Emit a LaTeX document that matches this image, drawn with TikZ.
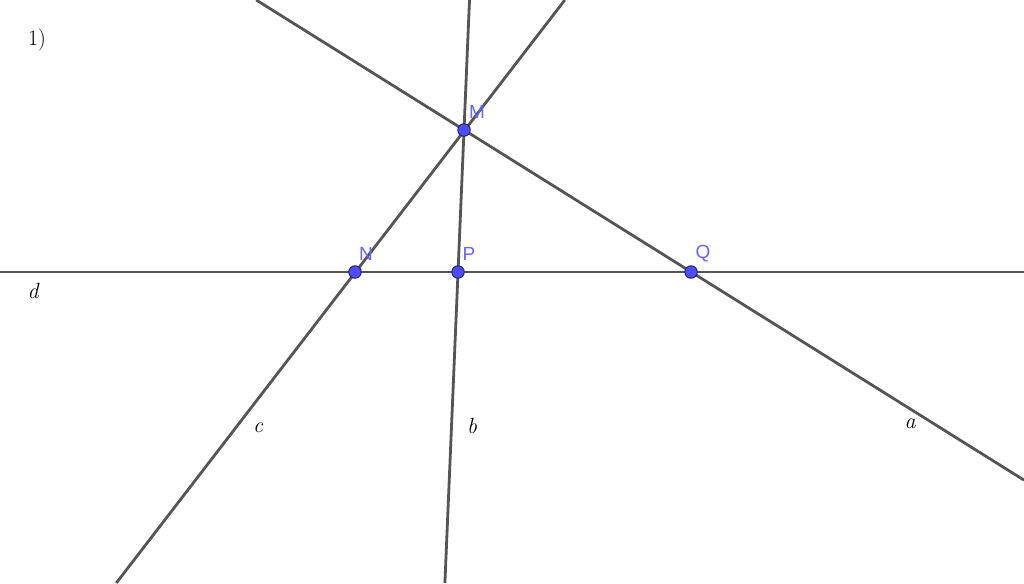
\documentclass[tikz,border=0pt]{standalone}
\usepackage{fontspec}
\newfontfamily\geosans{Liberation Sans}
\definecolor{linegray}{RGB}{85,85,85}
\definecolor{ptblue}{RGB}{77,77,255}
\definecolor{ptedge}{RGB}{30,30,90}
\definecolor{lblblue}{RGB}{102,102,255}
\tikzset{
  geoline/.style={draw=linegray,line width=2.8pt},
  geopt/.style={circle,fill=ptblue,draw=ptedge,line width=0.9pt,inner sep=0pt,minimum size=12.5pt},
  ptlabel/.style={text=lblblue,font=\geosans\fontsize{19}{22}\selectfont,inner sep=0pt},
  linelabel/.style={font=\fontsize{22}{26}\selectfont\itshape,inner sep=0pt}
}
\begin{document}
\begin{tikzpicture}[x=1pt,y=-1pt]
\useasboundingbox (0,0) rectangle (1024,583);
% coordinates of line ends
\coordinate (dL) at (0,272);
\coordinate (dR) at (1024,272);
\coordinate (cB) at (116.3,583);
\coordinate (cT) at (564.8,0);
\coordinate (bT) at (469.5,0);
\coordinate (bB) at (444.9,583);
\coordinate (aT) at (256.2,0);
\coordinate (aB) at (1024,480.1);
\draw[geoline] (dL) -- (dR);
\draw[geoline] (cB) -- (cT);
\draw[geoline] (bT) -- (bB);
\draw[geoline] (aT) -- (aB);
% points
\node[geopt] (M) at (464,130) {};
\node[geopt] (N) at (355,272) {};
\node[geopt] (P) at (458,272) {};
\node[geopt] (Q) at (691,272) {};
\node[ptlabel] (lM) at (477,112) {M};
\node[ptlabel] (lN) at (366,254) {N};
\node[ptlabel] (lP) at (469,254) {P};
\node[ptlabel] (lQ) at (703,254) {Q};
% line labels
\node[linelabel] (ld) at (33,291) {d};
\node[linelabel] (lc) at (258,428) {c};
\node[linelabel] (lb) at (472,426) {b};
\node[linelabel] (la) at (910,424) {a};
\node[font=\fontsize{22}{26}\selectfont,inner sep=0pt] (num) at (37,40) {1)};
\end{tikzpicture}
\end{document}
